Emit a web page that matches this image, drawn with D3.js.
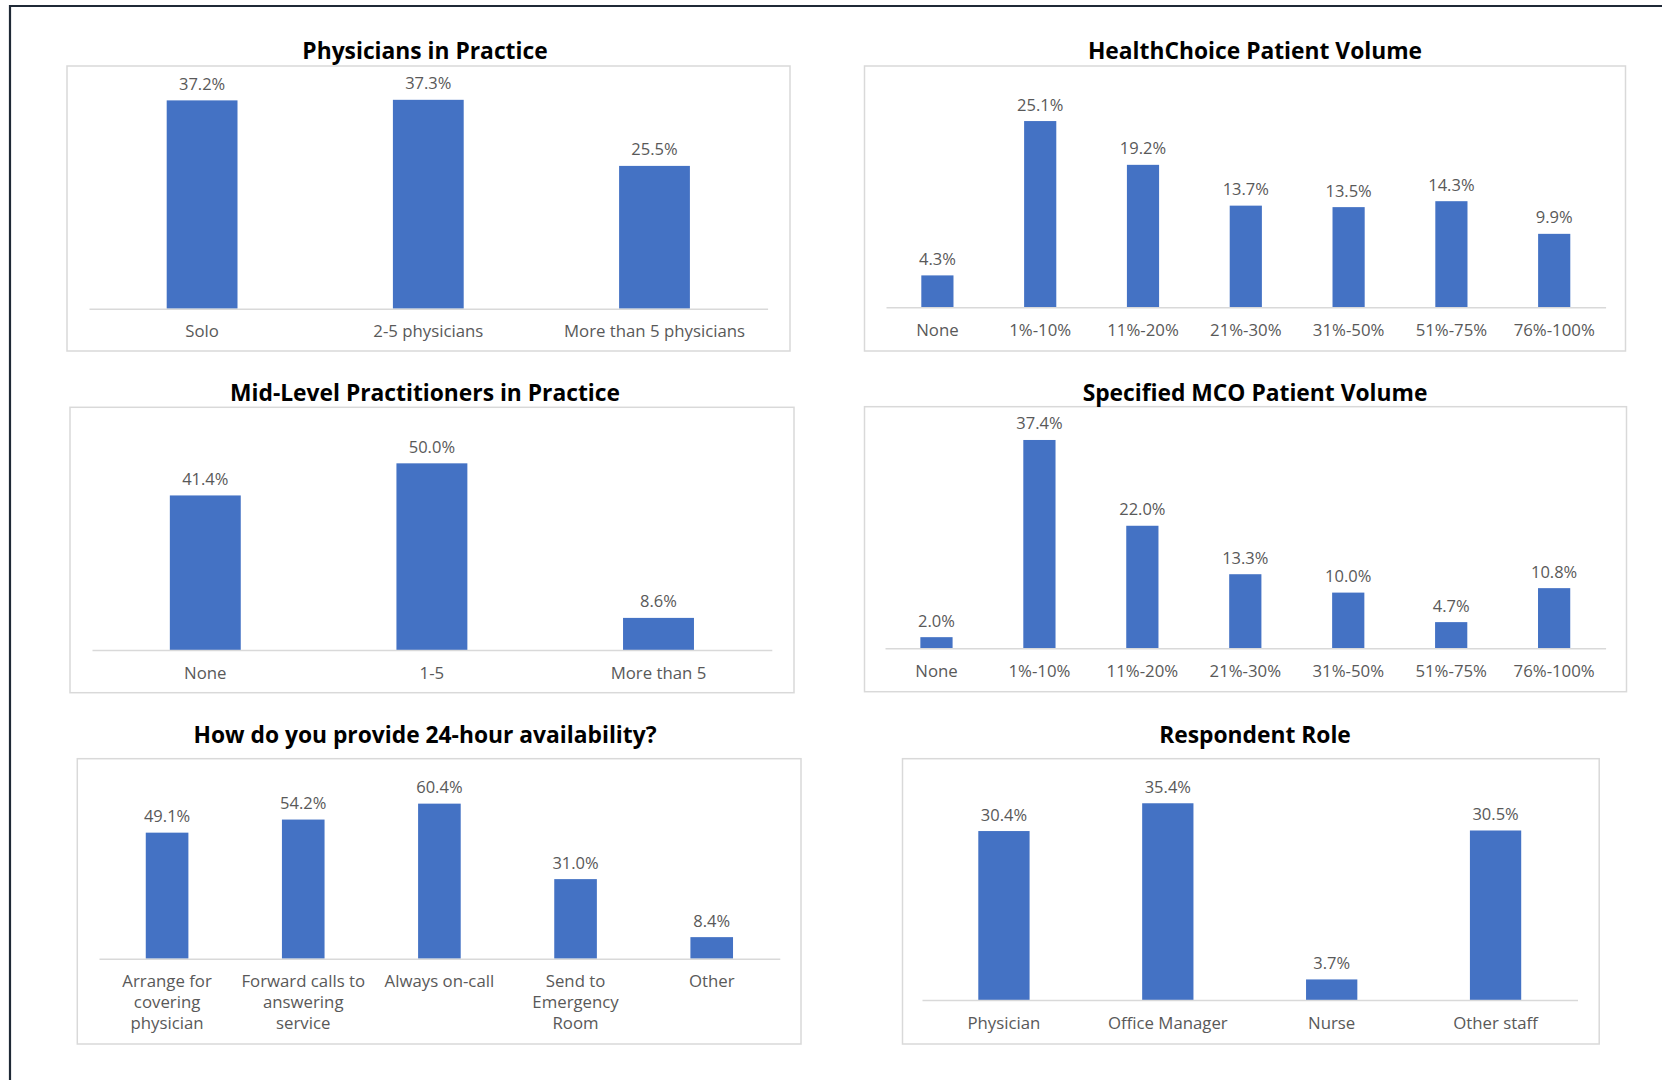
<!DOCTYPE html>
<html>
<head>
<meta charset="utf-8">
<script src="https://cdn.jsdelivr.net/npm/d3@7"></script>
<style>
  html, body { margin: 0; padding: 0; background: #fff; }
  svg { display: block; }
</style>
</head>
<body>
<svg id="chart" width="1662" height="1080"></svg>
<script>
// ---------- DATA ----------
const physCategories = ["Solo", "2-5 physicians", "More than 5 physicians"];
const physValues = [37.2, 37.3, 25.5];

const hcCategories = ["None", "1%-10%", "11%-20%", "21%-30%", "31%-50%", "51%-75%", "76%-100%"];
const hcValues = [4.3, 25.1, 19.2, 13.7, 13.5, 14.3, 9.9];

const midCategories = ["None", "1-5", "More than 5"];
const midValues = [41.4, 50.0, 8.6];

const mcoCategories = ["None", "1%-10%", "11%-20%", "21%-30%", "31%-50%", "51%-75%", "76%-100%"];
const mcoValues = [2.0, 37.4, 22.0, 13.3, 10.0, 4.7, 10.8];

const availCategories = ["Arrange for|covering|physician", "Forward calls to|answering|service", "Always on-call", "Send to|Emergency|Room", "Other"];
const availValues = [49.1, 54.2, 60.4, 31.0, 8.4];

const roleCategories = ["Physician", "Office Manager", "Nurse", "Other staff"];
const roleValues = [30.4, 35.4, 3.7, 30.5];

const titles = [
  "Physicians in Practice",
  "HealthChoice Patient Volume",
  "Mid-Level Practitioners in Practice",
  "Specified MCO Patient Volume",
  "How do you provide 24-hour availability?",
  "Respondent Role"
];
const axisMax = [40, 30, 60, 40, 70, 40];

// ---------- LAYOUT ----------
const panels = [
  { cats: physCategories, vals: physValues, box: [67, 66, 790, 351], ax: [89, 767.6], ay: 308.7, top: 84.7, tx: 425, ty: 50 },
  { cats: hcCategories, vals: hcValues, box: [864.5, 66, 1625.5, 351], ax: [886, 1605.6], ay: 307.3, top: 84.7, tx: 1255, ty: 50 },
  { cats: midCategories, vals: midValues, box: [70, 407.3, 794, 692.7], ax: [92, 771.8], ay: 650, top: 426, tx: 425, ty: 392.7 },
  { cats: mcoCategories, vals: mcoValues, box: [864.5, 406.7, 1626.5, 691.7], ax: [885, 1605.6], ay: 648.3, top: 425.5, tx: 1255, ty: 392.7 },
  { cats: availCategories, vals: availValues, box: [77.3, 758.7, 801, 1044], ax: [99, 779.8], ay: 958.7, top: 779, tx: 425, ty: 734.3 },
  { cats: roleCategories, vals: roleValues, box: [902.5, 758.7, 1599.2, 1044], ax: [922, 1577.5], ay: 1000, top: 777.7, tx: 1255, ty: 734.3 }
];

const svg = d3.select("#chart");
const FONT = "'Open Sans', 'Noto Sans', sans-serif";
const BAR = "#4472C4";
const TXT = "#595959";
const GRID = "#D9D9D9";

// outer frame (top + left edges visible)
svg.append("path")
  .attr("d", "M10,1080 L10,6 L1662,6")
  .attr("fill", "none")
  .attr("stroke", "#1F2936")
  .attr("stroke-width", 2.2);

panels.forEach((p, i) => {
  const g = svg.append("g");
  const [bx0, by0, bx1, by1] = p.box;

  g.append("rect")
    .attr("x", bx0).attr("y", by0)
    .attr("width", bx1 - bx0).attr("height", by1 - by0)
    .attr("fill", "#fff")
    .attr("stroke", GRID).attr("stroke-width", 1.5);

  g.append("text")
    .attr("x", p.tx).attr("y", p.ty)
    .attr("text-anchor", "middle")
    .attr("dominant-baseline", "central")
    .style("font-family", FONT)
    .style("font-weight", "700")
    .style("font-size", "22.8px")
    .attr("fill", "#000")
    .text(titles[i]);

  const x = d3.scaleBand()
    .domain(p.cats)
    .range(p.ax)
    .paddingInner(0.687)
    .paddingOuter(0.3435);

  const y = d3.scaleLinear()
    .domain([0, axisMax[i]])
    .range([p.ay, p.top]);

  const data = p.cats.map((c, k) => ({ cat: c, val: p.vals[k] }));

  g.selectAll("rect.bar")
    .data(data)
    .join("rect")
    .attr("class", "bar")
    .attr("x", d => x(d.cat))
    .attr("y", d => y(d.val))
    .attr("width", x.bandwidth())
    .attr("height", d => y(0) - y(d.val))
    .attr("fill", BAR);

  g.selectAll("text.val")
    .data(data)
    .join("text")
    .attr("class", "val")
    .attr("x", d => x(d.cat) + x.bandwidth() / 2)
    .attr("y", d => y(d.val) - 10.5)
    .attr("text-anchor", "middle")
    .style("font-family", FONT)
    .style("font-size", "16.5px")
    .attr("fill", TXT)
    .text(d => d3.format(".1f")(d.val) + "%");

  const axis = d3.axisBottom(x).tickSize(0).tickSizeOuter(0).tickPadding(0);
  const ag = g.append("g")
    .attr("transform", `translate(0,${p.ay})`)
    .call(axis);
  ag.select(".domain").attr("stroke", GRID).attr("stroke-width", 1.5);
  ag.selectAll(".tick text").each(function(d) {
    const t = d3.select(this);
    const lines = d.split("|");
    t.text(null)
      .attr("y", 0)
      .attr("dy", null)
      .style("font-family", FONT)
      .style("font-size", "16.8px")
      .attr("fill", TXT);
    lines.forEach((ln, li) => {
      t.append("tspan")
        .attr("x", 0)
        .attr("y", 28.8 + li * 21)
        .text(ln);
    });
  });
});
</script>
</body>
</html>
